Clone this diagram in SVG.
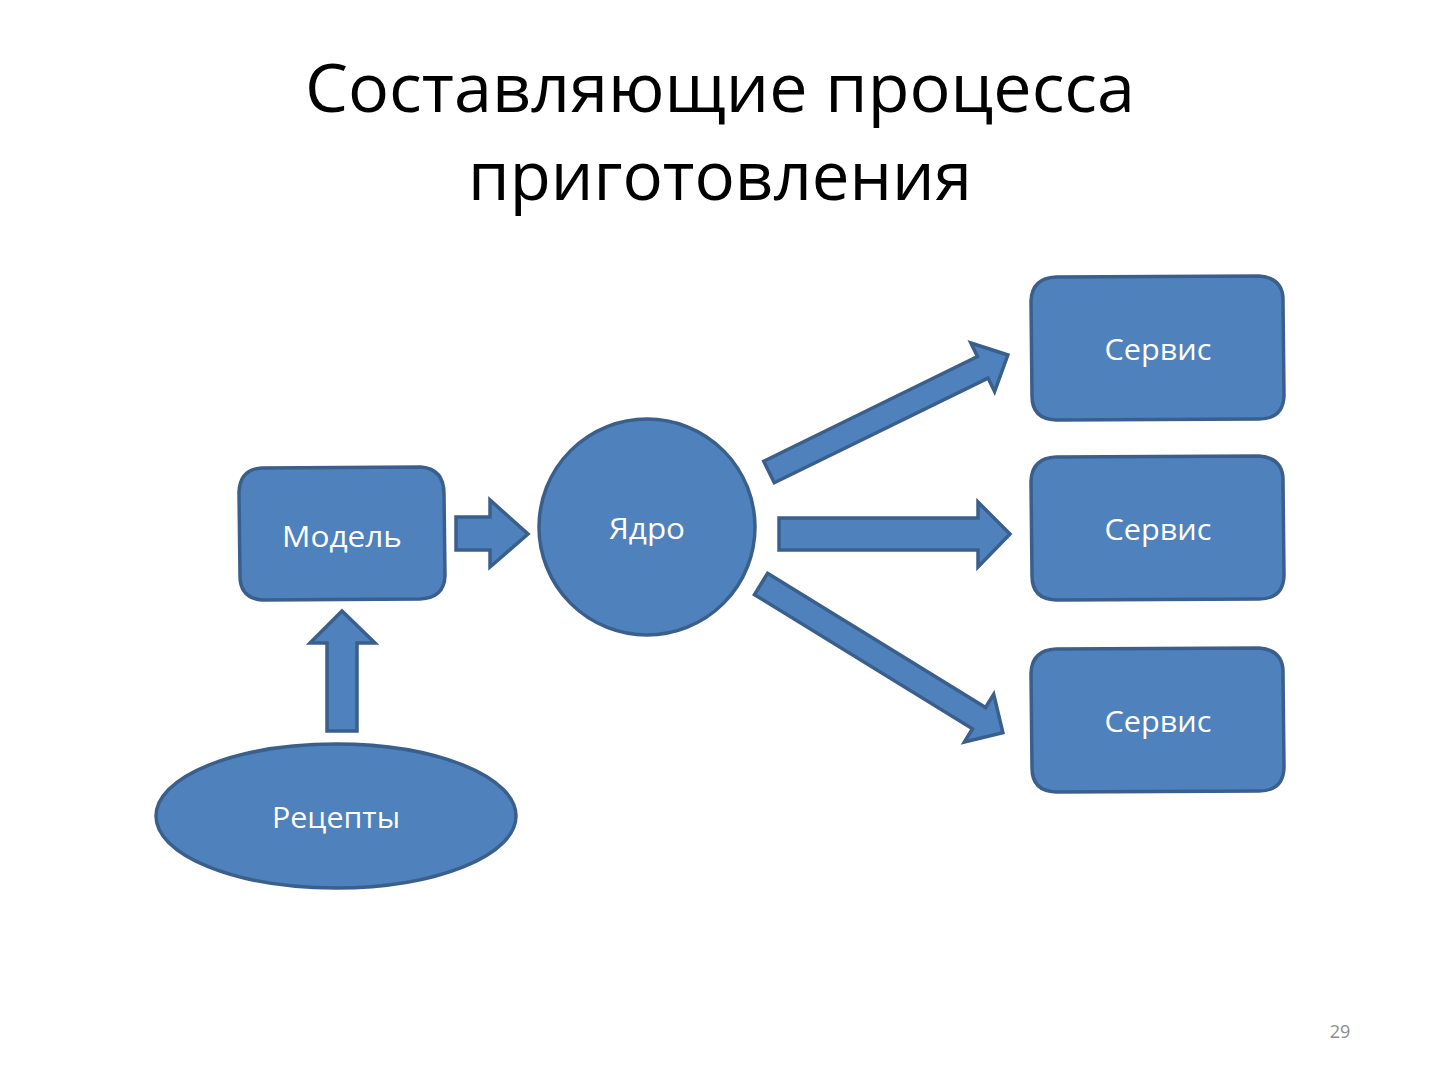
<svg xmlns="http://www.w3.org/2000/svg" width="1440" height="1080" viewBox="0 0 1440 1080">
<style>
.shape{fill:#4F81BD;stroke:#3A5F8C;stroke-width:3.5;stroke-linejoin:miter}
.lbl{font-family:"Open Sans","Noto Sans","DejaVu Sans",sans-serif;font-size:29px;fill:#FFFFFF;text-anchor:middle}
.title{font-family:"Open Sans","Noto Sans","DejaVu Sans",sans-serif;font-size:68px;fill:#000000;text-anchor:middle}
</style>
<rect width="1440" height="1080" fill="#FFFFFF"/>
<g id="title">
<text class="title" x="720" y="112" textLength="830" lengthAdjust="spacingAndGlyphs">Составляющие процесса</text>
<text class="title" x="720" y="200" textLength="504" lengthAdjust="spacingAndGlyphs">приготовления</text>
</g>
<g id="connectors">
<polygon class="shape" points="456,517 490,517 490,500 528,534 490,567 490,550 456,550"/>
<polygon class="shape" points="327,731 327,643 310,643 342,611 375,643 357,643 357,731"/>
<polygon class="shape" points="779,518 978,518 978,502 1010,534 978,567 978,550 779,550"/>
<polygon class="shape" transform="translate(769,472) rotate(-26.1)" points="0,-12 238,-12 238,-27 266,0 238,27 238,12 0,12"/>
<polygon class="shape" transform="translate(761,584) rotate(31.6)" points="0,-12.5 256,-12.5 256,-28 284,0 256,28 256,12.5 0,12.5"/>
</g>
<g id="model">
<path class="shape" d="M262,468 L421,467 Q444,469 444,494 L445,576 Q444,598 420,599 L262,600 Q240,598 240,576 L239,492 Q240,469 262,468 Z"/>
<text class="lbl" x="342" y="547" textLength="120" lengthAdjust="spacingAndGlyphs">Модель</text>
</g>
<g id="core">
<circle class="shape" cx="647" cy="527" r="108"/>
<text class="lbl" x="647" y="539" textLength="76" lengthAdjust="spacingAndGlyphs">Ядро</text>
</g>
<g id="recipes">
<ellipse class="shape" cx="336" cy="816" rx="180" ry="72"/>
<text class="lbl" x="336" y="828" textLength="128" lengthAdjust="spacingAndGlyphs">Рецепты</text>
</g>
<g id="service1">
<path class="shape" d="M1056,277 L1259,276 Q1284,278 1283,302 L1284,396 Q1283,419 1259,419 L1056,420 Q1032,419 1032,396 L1031,301 Q1032,278 1056,277 Z"/>
<text class="lbl" x="1158" y="360" textLength="107" lengthAdjust="spacingAndGlyphs">Сервис</text>
</g>
<g id="service2">
<path class="shape" d="M1056,457 L1259,456 Q1284,458 1283,482 L1284,576 Q1283,599 1259,599 L1056,600 Q1032,599 1032,576 L1031,481 Q1032,458 1056,457 Z"/>
<text class="lbl" x="1158" y="540" textLength="107" lengthAdjust="spacingAndGlyphs">Сервис</text>
</g>
<g id="service3">
<path class="shape" d="M1056,649 L1259,648 Q1284,650 1283,674 L1284,768 Q1283,791 1259,791 L1056,792 Q1032,791 1032,768 L1031,673 Q1032,650 1056,649 Z"/>
<text class="lbl" x="1158" y="732" textLength="107" lengthAdjust="spacingAndGlyphs">Сервис</text>
</g>
<text x="1340" y="1038" font-family="Open Sans, sans-serif" font-size="18" fill="#8C8C8C" text-anchor="middle">29</text>
</svg>
